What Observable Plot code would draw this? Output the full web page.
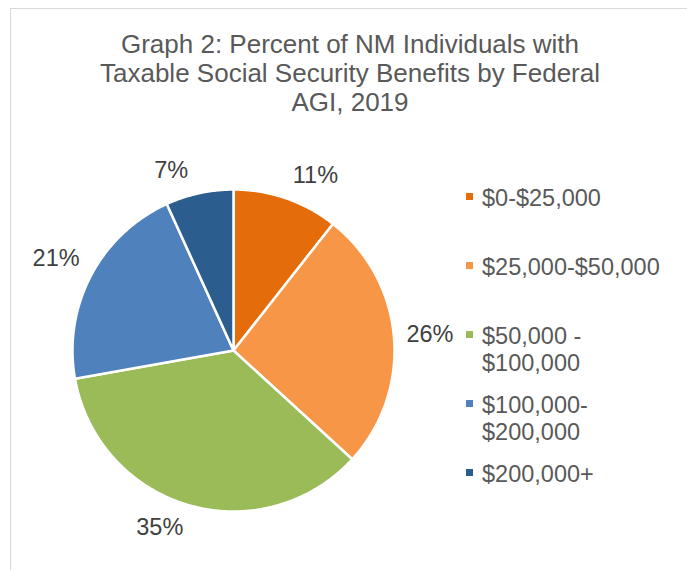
<!DOCTYPE html>
<html>
<head>
<meta charset="utf-8">
<script src="https://cdn.jsdelivr.net/npm/d3@7"></script>
<script src="https://cdn.jsdelivr.net/npm/@observablehq/plot@0.6"></script>
<style>
  html, body { margin: 0; padding: 0; background: #fff; }
  #wrap { position: relative; width: 687px; height: 570px; overflow: hidden; font-family: "Liberation Sans", Arial, sans-serif; }
  #frame { position: absolute; left: 10px; top: 8px; width: 700px; height: 600px; border-left: 1px solid #d9d9d9; border-top: 1px solid #d9d9d9; }
  #title { position: absolute; left: 10px; top: 30px; width: 680px; text-align: center; font-size: 26px; line-height: 29px; color: #595959; }
  #chart { position: absolute; left: 0; top: 130px; }
  #legend { position: absolute; left: 466px; top: 185px; display: grid; grid-auto-rows: 69px; }
  .item { position: relative; padding-left: 16px; font-size: 23.5px; line-height: 26.5px; color: #595959; white-space: pre-line; }
  .sw { position: absolute; left: 0; top: 8px; width: 7px; height: 7px; }
</style>
</head>
<body>
<div id="wrap">
  <div id="frame"></div>
  <div id="title">Graph 2: Percent of NM Individuals with<br>Taxable Social Security Benefits by Federal<br>AGI, 2019</div>
  <div id="chart"></div>
  <div id="legend"></div>
</div>
<script>
const categories = ["$0-$25,000", "$25,000-$50,000", "$50,000 -\n$100,000", "$100,000-\n$200,000", "$200,000+"];
const values = [10.6, 26.2, 35.4, 21.0, 6.8];
const colors = ["#E46C0A", "#F79646", "#9BBB59", "#4F81BD", "#2C5D8F"];

const W = 687, H = 440;
const cx = 233, cy = 220, R = 161;

const arcs = d3.pie().sort(null).value(d => d)(values);

// polygon points for each slice (unit circle, y up)
const poly = [];
arcs.forEach((a, i) => {
  const cat = categories[i];
  poly.push({cat, x: 0, y: 0});
  const n = Math.max(8, Math.ceil((a.endAngle - a.startAngle) / 0.01));
  for (let k = 0; k <= n; k++) {
    const t = a.startAngle + (a.endAngle - a.startAngle) * k / n;
    poly.push({cat, x: Math.sin(t), y: Math.cos(t)});
  }
});

const labelData = arcs.map((a, i) => {
  const m = (a.startAngle + a.endAngle) / 2;
  const s = Math.sin(m), c = Math.cos(m);
  const rr = 1 + 10 / R;
  const bx = 26 / R, by = 13 / R;
  return {
    x: s * rr + Math.sign(s) * bx,
    y: c * rr + Math.max(-1, Math.min(1, 2 * c)) * by,
    text: Math.round(values[i]) + "%"
  };
});

const chart = Plot.plot({
  width: W,
  height: H,
  margin: 0,
  style: {fontFamily: '"Liberation Sans", Arial, sans-serif', background: "transparent"},
  x: {domain: [-1, 1], range: [cx - R, cx + R], axis: null},
  y: {domain: [-1, 1], range: [cy + R, cy - R], axis: null},
  color: {domain: categories, range: colors},
  marks: [
    Plot.line(poly, {x: "x", y: "y", z: "cat", fill: "cat", stroke: "white", strokeWidth: 2.5, strokeLinejoin: "round", curve: "linear-closed"}),
    Plot.text(labelData, {x: "x", y: "y", text: "text", fontSize: 23.5, fill: "#404040", lineAnchor: "middle"})
  ]
});
document.getElementById("chart").appendChild(chart);

const leg = document.getElementById("legend");
categories.forEach((c, i) => {
  const it = document.createElement("div");
  it.className = "item";
  const sw = document.createElement("span");
  sw.className = "sw";
  sw.style.background = colors[i];
  it.appendChild(sw);
  it.appendChild(document.createTextNode(c));
  leg.appendChild(it);
});
</script>
</body>
</html>
